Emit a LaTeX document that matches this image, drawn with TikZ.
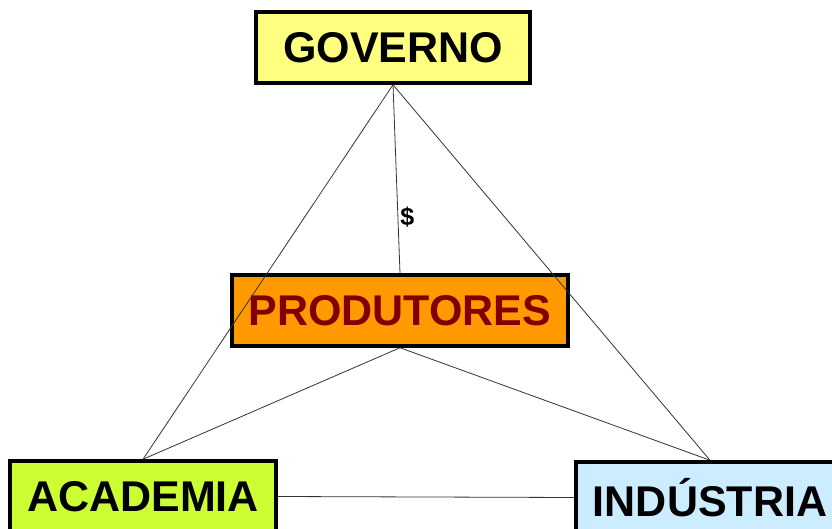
\documentclass[tikz,border=0pt]{standalone}
\usepackage{fontspec}
\setmainfont{Liberation Sans}
\usetikzlibrary{positioning}
\definecolor{govfill}{RGB}{255,255,128}
\definecolor{prodfill}{RGB}{255,153,0}
\definecolor{prodtext}{RGB}{128,0,0}
\definecolor{acadfill}{RGB}{204,255,51}
\definecolor{indfill}{RGB}{204,236,255}

\begin{document}
\begin{tikzpicture}[x=1pt,y=-1pt,
    actor/.style={draw=black,line width=3.5pt,minimum height=71pt,inner sep=0pt,
      font=\fontsize{43}{43}\selectfont\bfseries},
    link/.style={draw=black!80,line width=0.8pt}]
  \useasboundingbox[fill=white] (0,0) rectangle (832,529);
  \node[actor,fill=govfill,minimum width=274pt] (gov) at (393,47.5) {GOVERNO};
  \node[actor,fill=prodfill,text=prodtext,minimum width=336pt] (prod) at (400,310.5) {PRODUTORES};
  \node[actor,fill=acadfill,minimum width=266pt] (acad) at (143,496.5) {ACADEMIA};
  \node[actor,fill=indfill,minimum width=268pt] (ind) at (710,497.5) {INDÚSTRIA};
  \draw[link] (gov.south) -- (acad.north);
  \draw[link] (gov.south) -- (ind.north);
  \draw[link] (gov.south) -- node[pos=0.7,right,inner sep=2pt,font=\fontsize{25}{25}\selectfont\bfseries] (money) {\$} (prod.north);
  \draw[link] (prod.south) -- (acad.north);
  \draw[link] (prod.south) -- (ind.north);
  \draw[link] (acad.east) -- (ind.west);
\end{tikzpicture}
\end{document}
